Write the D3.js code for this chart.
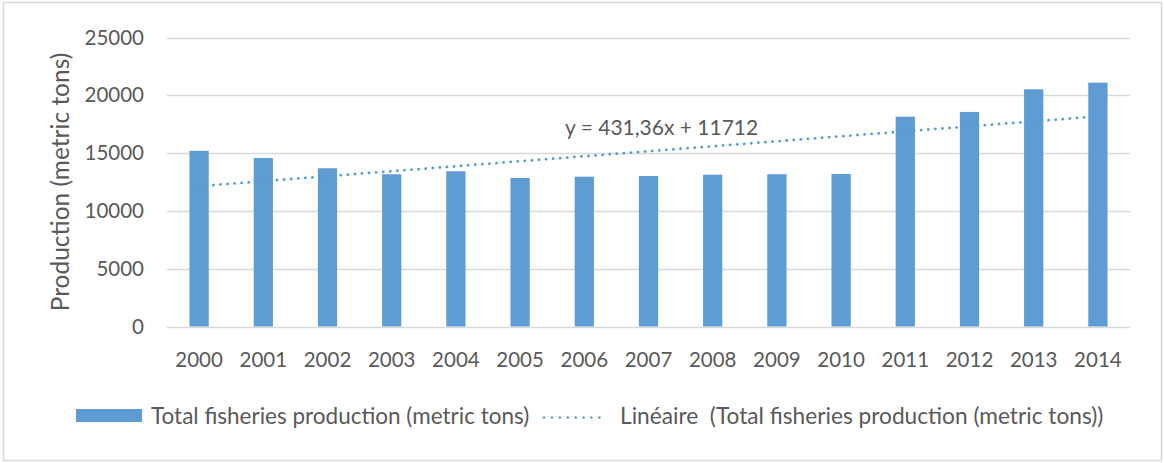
<!DOCTYPE html>
<html>
<head>
<meta charset="utf-8">
<script src="https://cdn.jsdelivr.net/npm/d3@7"></script>
<style>
  html, body { margin: 0; padding: 0; background: #fff; }
  svg { display: block; font-family: Lato, "Open Sans", sans-serif; }
</style>
</head>
<body>
<svg id="chart" width="1164" height="463"></svg>
<script>
const years = ["2000","2001","2002","2003","2004","2005","2006","2007","2008","2009","2010","2011","2012","2013","2014"];
const production = [15200, 14580, 13690, 13170, 13430, 12850, 12960, 13020, 13130, 13170, 13190, 18150, 18560, 20520, 21090];
const yTicks = [0, 5000, 10000, 15000, 20000, 25000];
const trendSlope = 431.36;
const trendIntercept = 11712;
const equationLabel = "y = 431,36x + 11712";
const yTitle = "Production (metric tons)";
const legendBar = "Total fisheries production (metric tons)";
const legendTrend = "Linéaire  (Total fisheries production (metric tons))";

const svg = d3.select("#chart");
const textColor = "#595959";
const barColor = "#5f9cd4";
const gridColor = "#d9d9d9";

// outer border
svg.append("rect").attr("x", 3.5).attr("y", 2.5).attr("width", 1158).attr("height", 458)
  .attr("fill", "#fff").attr("stroke", "#d9d9d9").attr("stroke-width", 1.5);

const plot = { left: 167, right: 1130, top: 37.5, bottom: 326.5 };

const x = d3.scaleBand().domain(years).range([plot.left, plot.right]).paddingInner(0.7).paddingOuter(0.35);
const y = d3.scaleLinear().domain([0, 25000]).range([plot.bottom, plot.top]);

// gridlines
svg.append("g").selectAll("line").data(yTicks).join("line")
  .attr("x1", plot.left).attr("x2", plot.right)
  .attr("y1", d => Math.round(y(d)) + 0.5).attr("y2", d => Math.round(y(d)) + 0.5)
  .attr("stroke", gridColor).attr("stroke-width", 1.5);

// y axis labels
const yAxis = d3.axisLeft(y).tickValues(yTicks).tickSize(0).tickPadding(23).tickFormat(d3.format("d"));
const gy = svg.append("g").attr("transform", `translate(${plot.left},0)`).call(yAxis);
gy.select(".domain").remove();
gy.selectAll("text").attr("fill", textColor).style("font-size", "20.5px").style("font-family", "Lato, sans-serif");

// x axis labels
const xAxis = d3.axisBottom(x).tickSize(0).tickPadding(26);
const gx = svg.append("g").attr("transform", `translate(0,${plot.bottom})`).call(xAxis);
gx.select(".domain").remove();
gx.selectAll("text").attr("fill", textColor).style("font-size", "20.5px").style("font-family", "Lato, sans-serif");

// bars
svg.append("g").selectAll("rect").data(production).join("rect")
  .attr("x", (d, i) => x(years[i]))
  .attr("width", x.bandwidth())
  .attr("y", d => y(d))
  .attr("height", d => y(0) - y(d))
  .attr("fill", barColor);

// trend line
const trendPts = years.map((yr, i) => [x(yr) + x.bandwidth() / 2, y(trendSlope * (i + 1) + trendIntercept)]);
svg.append("path")
  .attr("d", d3.line()(trendPts))
  .attr("fill", "none")
  .attr("stroke", "#5b9bd5")
  .attr("stroke-width", 2.8)
  .attr("stroke-linecap", "round")
  .attr("stroke-dasharray", "0.1 7");

// equation label
svg.append("text").attr("x", 565).attr("y", 135)
  .attr("fill", textColor).style("font-size", "21px")
  .text(equationLabel);

// y title
svg.append("text")
  .attr("transform", `translate(69,182) rotate(-90)`)
  .attr("text-anchor", "middle")
  .attr("fill", textColor).style("font-size", "24.5px")
  .text(yTitle);

// legend
const lg = svg.append("g");
lg.append("rect").attr("x", 76).attr("y", 409).attr("width", 66).attr("height", 13).attr("fill", barColor);
lg.append("text").attr("x", 151).attr("y", 424).attr("fill", textColor).style("font-size", "22.5px").text(legendBar);
lg.append("line").attr("x1", 544).attr("x2", 607).attr("y1", 417.5).attr("y2", 417.5)
  .attr("stroke", "#5b9bd5").attr("stroke-width", 2.6).attr("stroke-linecap", "round").attr("stroke-dasharray", "0.1 7.8");
lg.append("text").attr("x", 620).attr("y", 424).attr("fill", textColor).style("font-size", "22.7px")
  .attr("xml:space", "preserve").style("white-space", "pre").text(legendTrend);
</script>
</body>
</html>
